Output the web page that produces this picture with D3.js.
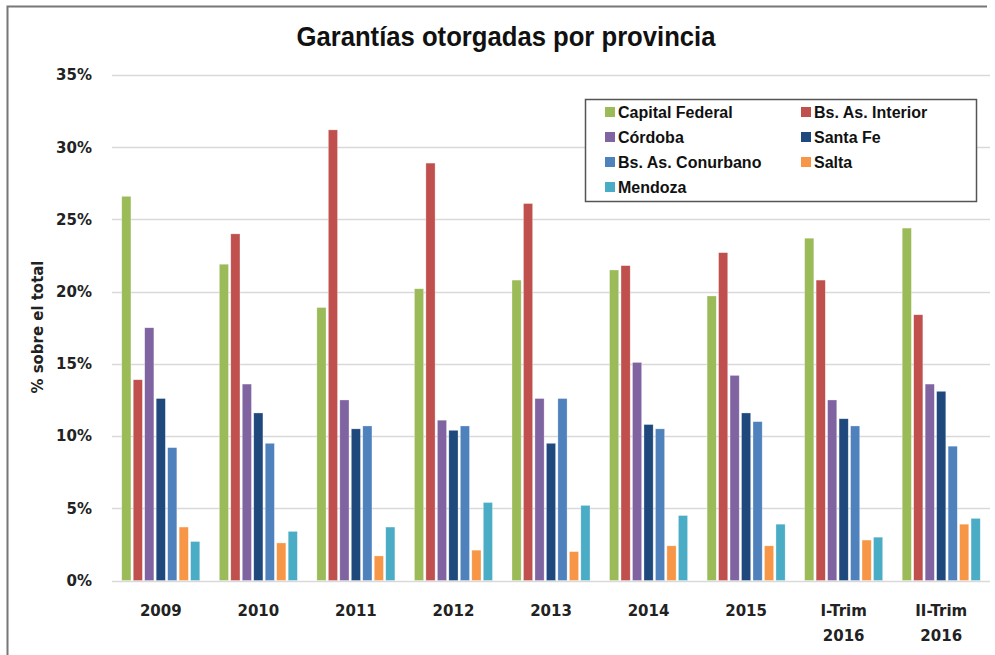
<!DOCTYPE html>
<meta charset="utf-8">
<style>
body { margin: 0; background: #fff; }
.tick text { font-family: "DejaVu Sans", sans-serif; font-weight: bold; font-size: 15px; fill: #222; }
.legend text { font-family: "Liberation Sans", Arial, sans-serif; font-weight: bold; font-size: 16px; fill: #111; }
</style>
<svg width="995" height="655"></svg>
<script src="https://cdn.jsdelivr.net/npm/d3@7"></script>
<script>

var categories = ["2009", "2010", "2011", "2012", "2013", "2014", "2015", "I-Trim\n2016", "II-Trim\n2016"];
var seriesNames = ["Capital Federal", "Bs. As. Interior", "Córdoba", "Santa Fe", "Bs. As. Conurbano", "Salta", "Mendoza"];
var colors = ["#9bbb59", "#c0504d", "#8064a2", "#1f497d", "#4f81bd", "#f79646", "#4bacc6"];

// % sobre el total
var capitalFederal = [26.6, 21.9, 18.9, 20.2, 20.8, 21.5, 19.7, 23.7, 24.4];
var bsAsInterior   = [13.9, 24.0, 31.2, 28.9, 26.1, 21.8, 22.7, 20.8, 18.4];
var cordoba        = [17.5, 13.6, 12.5, 11.1, 12.6, 15.1, 14.2, 12.5, 13.6];
var santaFe        = [12.6, 11.6, 10.5, 10.4,  9.5, 10.8, 11.6, 11.2, 13.1];
var bsAsConurbano  = [ 9.2,  9.5, 10.7, 10.7, 12.6, 10.5, 11.0, 10.7,  9.3];
var salta          = [ 3.7,  2.6,  1.7,  2.1,  2.0,  2.4,  2.4,  2.8,  3.9];
var mendoza        = [ 2.7,  3.4,  3.7,  5.4,  5.2,  4.5,  3.9,  3.0,  4.3];

var yTicks = [0, 5, 10, 15, 20, 25, 30, 35];

var values = [capitalFederal, bsAsInterior, cordoba, santaFe, bsAsConurbano, salta, mendoza];

var svg = d3.select("svg"),
    margin = {top: 75, right: 5, bottom: 75, left: 112},
    width = +svg.attr("width") - margin.left - margin.right,
    height = 580.5 - margin.top;

// frame (left and top edges only, picture is cropped)
svg.append("path")
    .attr("d", "M7.5,655V6.5H987")
    .attr("fill", "none")
    .attr("stroke", "#777")
    .attr("stroke-width", 2);

var x0 = d3.scaleBand().domain(categories).range([0, width]).paddingInner(0.2).paddingOuter(0.1);
var x1 = d3.scaleBand().domain(d3.range(seriesNames.length)).range([0, x0.bandwidth()]).paddingInner(0.2).paddingOuter(0);
var y = d3.scaleLinear().domain([0, 35]).range([height, 0]);

var g = svg.append("g")
    .attr("transform", "translate(" + margin.left + "," + margin.top + ")");

// grid
g.append("g")
    .selectAll("line")
    .data(yTicks)
    .enter().append("line")
      .attr("x1", 0)
      .attr("x2", width)
      .attr("y1", function(d) { return Math.round(y(d)) + 0.5; })
      .attr("y2", function(d) { return Math.round(y(d)) + 0.5; })
      .attr("stroke", "#d9d9d9")
      .attr("stroke-width", 1.5);

// y axis labels
var yAxis = g.append("g")
    .call(d3.axisLeft(y).tickValues(yTicks).tickSize(0).tickPadding(20).tickFormat(function(d) { return d + "%"; }));
yAxis.select(".domain").remove();

// bars
var groups = g.selectAll(".grp")
    .data(categories)
    .enter().append("g")
      .attr("class", "grp")
      .attr("transform", function(d) { return "translate(" + x0(d) + ",0)"; });

groups.selectAll("rect")
    .data(function(d, i) { return values.map(function(s, k) { return {k: k, v: s[i]}; }); })
    .enter().append("rect")
      .attr("x", function(d) { return x1(d.k); })
      .attr("y", function(d) { return y(d.v); })
      .attr("width", x1.bandwidth())
      .attr("height", function(d) { return height - y(d.v); })
      .attr("fill", function(d) { return colors[d.k]; })
      .attr("stroke", "#fff")
      .attr("stroke-opacity", 0.5)
      .attr("stroke-width", 0.6);

// x axis labels
var xAxis = g.append("g")
    .attr("transform", "translate(0," + height + ")")
    .call(d3.axisBottom(x0).tickSize(0).tickFormat(""));
xAxis.select(".domain").remove();
xAxis.selectAll(".tick").append("text")
    .attr("text-anchor", "middle")
    .selectAll("tspan")
    .data(function(d) { return d.split("\n"); })
    .enter().append("tspan")
      .attr("x", 0)
      .attr("y", function(d, i) { return 35 + i * 25; })
      .text(function(d) { return d; });

// y title
svg.append("text")
    .attr("transform", "translate(43,327) rotate(-90)")
    .attr("text-anchor", "middle")
    .attr("font-family", "DejaVu Sans, sans-serif")
    .attr("font-weight", "bold")
    .attr("font-size", 15)
    .attr("textLength", 133)
    .attr("lengthAdjust", "spacingAndGlyphs")
    .attr("fill", "#222")
    .text("% sobre el total");

// title
svg.append("text")
    .attr("x", 506)
    .attr("y", 46)
    .attr("text-anchor", "middle")
    .attr("font-family", "Liberation Sans Narrow, Arial Narrow, sans-serif")
    .attr("font-weight", "bold")
    .attr("font-size", 28)
    .attr("textLength", 419)
    .attr("lengthAdjust", "spacingAndGlyphs")
    .attr("fill", "#111")
    .text("Garantías otorgadas por provincia");

// legend
var legend = svg.append("g").attr("class", "legend");
legend.append("rect")
    .attr("x", 585.5).attr("y", 99.5)
    .attr("width", 391).attr("height", 102)
    .attr("fill", "#fff")
    .attr("stroke", "#555")
    .attr("stroke-width", 1.5);

var items = legend.selectAll(".item")
    .data(seriesNames)
    .enter().append("g")
      .attr("class", "item")
      .attr("transform", function(d, i) {
        return "translate(" + (i % 2 === 0 ? 605 : 801) + "," + (112 + Math.floor(i / 2) * 25) + ")";
      });
items.append("rect")
    .attr("x", 0).attr("y", -5)
    .attr("width", 10).attr("height", 10)
    .attr("fill", function(d, i) { return colors[i]; });
items.append("text")
    .attr("x", 13)
    .attr("y", 6)
    .text(function(d) { return d; });

</script>
